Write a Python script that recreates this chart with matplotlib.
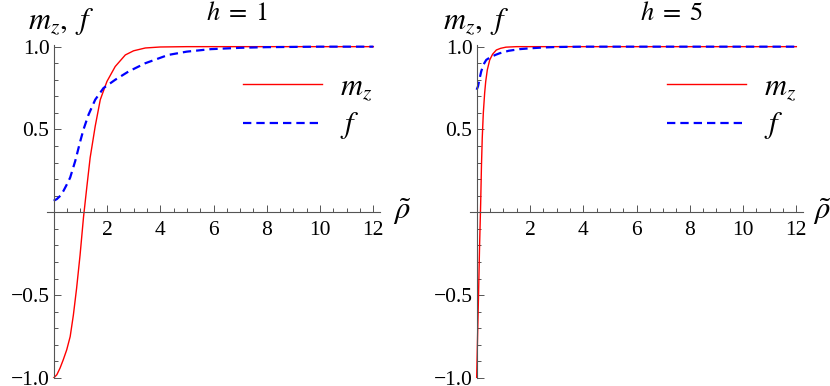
import matplotlib.pyplot as plt
from matplotlib.ticker import MultipleLocator, FixedLocator

plt.rcParams['mathtext.fontset'] = 'stix'
plt.rcParams['font.family'] = ['Liberation Serif', 'DejaVu Serif']

# h = 1
rho_m1 = [0, 0.12, 0.24, 0.36, 0.49, 0.62, 0.74, 0.86, 0.99, 1.12, 1.25, 1.37,
          1.56, 1.75, 2.0, 2.31, 2.69, 3.0, 3.44, 4.0, 5.0, 6.0, 8.0, 10.0, 12.0]
mz1 = [-1.0, -0.98, -0.94, -0.89, -0.83, -0.75, -0.62, -0.46, -0.26, -0.03, 0.16, 0.33,
       0.52, 0.68, 0.79, 0.88, 0.95, 0.975, 0.992, 0.998, 1.0, 1.0, 1.0, 1.0, 1.0]
rho_f1 = [0, 0.12, 0.25, 0.37, 0.5, 0.62, 0.81, 1.0, 1.12, 1.31, 1.56, 1.87,
          2.31, 2.81, 3.44, 4.3, 5.0, 5.9, 7.0, 8.0, 10.0, 12.0]
f1 = [0.07, 0.08, 0.10, 0.13, 0.17, 0.21, 0.31, 0.43, 0.50, 0.59, 0.68, 0.75,
      0.80, 0.85, 0.90, 0.95, 0.97, 0.985, 0.993, 0.997, 1.0, 1.0]

# h = 5
rho_m5 = [0, 0.03, 0.07, 0.11, 0.15, 0.18, 0.21, 0.25, 0.3, 0.34, 0.4, 0.49,
          0.6, 0.74, 0.9, 1.1, 1.5, 2.0, 4.0, 8.0, 12.0]
mz5 = [-1.0, -0.78, -0.5, -0.2, 0.05, 0.28, 0.45, 0.6, 0.72, 0.79, 0.86, 0.92,
       0.955, 0.98, 0.99, 0.997, 1.0, 1.0, 1.0, 1.0, 1.0]
rho_f5 = [0, 0.05, 0.1, 0.17, 0.25, 0.36, 0.5, 0.7, 0.86, 1.2, 1.61, 2.0,
          2.5, 3.0, 4.0, 6.0, 8.0, 10.0, 12.0]
f5 = [0.74, 0.76, 0.80, 0.85, 0.89, 0.92, 0.935, 0.95, 0.96, 0.975, 0.985, 0.99,
      0.995, 0.998, 1.0, 1.0, 1.0, 1.0, 1.0]

panels = [(rho_m1, mz1, rho_f1, f1, r'$h\;=\;1$'),
          (rho_m5, mz5, rho_f5, f5, r'$h\;=\;5$')]
xticks = [2, 4, 6, 8, 10, 12]
yticks = [-1.0, -0.5, 0.5, 1.0]
ytick_labels = ['\u22121.0', '\u22120.5', '0.5', '1.0']

fig = plt.figure(figsize=(8.3, 3.86), dpi=100)
W, H = 830.0, 386.0
axes_left = [47, 470]   # pixel left edges of the two plot boxes
gray = '#555555'

for k, (rm, mz, rf, f, title) in enumerate(panels):
    x0 = axes_left[k]
    ax = fig.add_axes([x0 / W, 1 - 378 / H, 333 / W, 333 / H])
    ax.plot(rm, mz, color='#ff0000', lw=1.0, label=r'$m_z$')
    ax.plot(rf, f, color='#0000ff', lw=1.6, dashes=(3.75, 2.25), label=r'$f$')
    ax.set_xlim(-0.25, 12.25)
    ax.set_ylim(-1.0, 1.01)
    for s in ['top', 'right']:
        ax.spines[s].set_visible(False)
    ax.spines['left'].set_position(('data', 0))
    ax.spines['bottom'].set_position(('data', 0))
    for s in ['left', 'bottom']:
        ax.spines[s].set_color(gray)
        ax.spines[s].set_linewidth(0.8)
    ax.xaxis.set_major_locator(FixedLocator(xticks))
    ax.xaxis.set_minor_locator(MultipleLocator(0.5))
    ax.set_yticks(yticks)
    ax.set_yticklabels(ytick_labels)
    ax.yaxis.set_minor_locator(MultipleLocator(0.1))
    ax.tick_params(which='both', direction='in', color=gray, width=0.7,
                   labelsize=15.5, pad=3)
    ax.tick_params(which='major', length=5)
    ax.tick_params(which='minor', length=3)
    ax.tick_params(axis='x', which='both', pad=6)
    ax.legend(loc='upper left', bbox_to_anchor=((243 + 424 * k - x0) / 333, 0.917),
              frameon=False, fontsize=22, handlelength=2.58, handletextpad=0.59,
              labelspacing=0.25, borderpad=0, borderaxespad=0)
    # labels placed from the picture
    fig.text((61 + 415 * k) / W, 1 - 22 / H, r'$m_z,\ f$', fontsize=22,
             ha='center', va='center')
    fig.text((236.5 + 435.5 * k) / W, 1 - 13 / H, title, fontsize=19,
             ha='center', va='center')
    fig.text((402 + 420 * k) / W, 1 - 212 / H, r'$\tilde{\rho}$', fontsize=22,
             ha='center', va='center')

fig.savefig('out.png', dpi=100)
